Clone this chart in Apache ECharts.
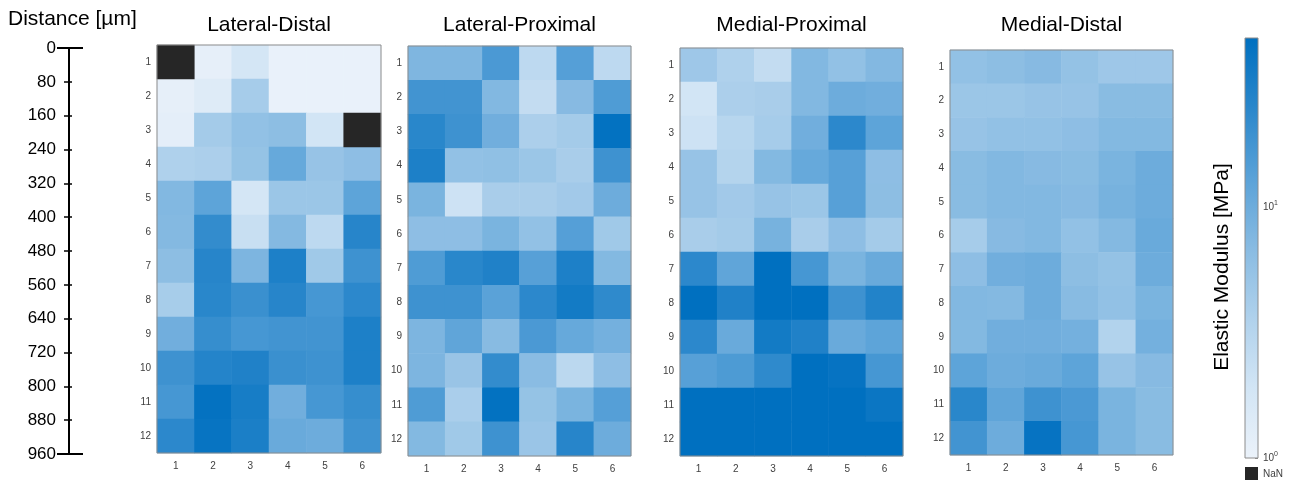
<!DOCTYPE html>
<html>
<head>
<meta charset="utf-8">
<script src="https://cdn.jsdelivr.net/npm/echarts@6/dist/echarts.min.js"></script>
<style>
  html, body { margin: 0; padding: 0; background: #ffffff; }
  #chart { width: 1293px; height: 482px; }
</style>
</head>
<body>
<div id="chart"></div>
<script>
// Indentation grid: 6 columns across, 12 rows down (80 µm per row)
const columns = ['1', '2', '3', '4', '5', '6'];
const rows = ['1', '2', '3', '4', '5', '6', '7', '8', '9', '10', '11', '12'];
const panelTitles = ['Lateral-Distal', 'Lateral-Proximal', 'Medial-Proximal', 'Medial-Distal'];

// Colour scale limits [MPa] (log scale)
const modulusMin = 1;
const modulusMax = 47;
const colorbarLabels = [1, 10];
const colorbarMinorTicks = [2, 3, 4, 5, 6, 7, 8, 9, 20, 30, 40];

// Elastic modulus per cell [MPa]; null = no measurement (NaN)
const lateralDistal = [
  [null, 1.15, 1.8, 1.05, 1.05, 1.05],
  [1.15, 1.4, 4.2, 1.05, 1.05, 1.05],
  [1.2, 4.3, 5.8, 6.3, 1.9, null],
  [3.6, 3.8, 5.5, 11, 5.4, 6.2],
  [7.5, 12.5, 1.8, 5.0, 5.0, 12.5],
  [7.2, 22, 2.3, 7.2, 2.8, 26],
  [6.3, 26, 8.0, 30, 4.6, 19],
  [4.1, 25, 20, 26, 17, 24],
  [9.5, 21, 17, 18, 18, 30],
  [19, 27, 29, 20, 19, 30],
  [17, 44, 33, 9.5, 17, 21],
  [24, 42, 31, 10.5, 10, 19]
];
const lateralProximal = [
  [7.8, 7.8, 16, 2.8, 14, 2.8],
  [18, 18, 7.5, 2.5, 7.0, 15],
  [25, 19, 9.5, 3.8, 4.3, 45],
  [30, 5.8, 6.0, 5.0, 4.0, 19],
  [8.3, 2.1, 4.0, 4.0, 4.5, 10],
  [6.2, 6.2, 8.3, 5.8, 14, 4.6],
  [15, 25, 29, 13.5, 30, 7.3],
  [19, 19, 13, 24, 35, 23],
  [8.0, 12, 6.8, 16, 11, 9.0],
  [8.0, 5.2, 22, 6.6, 2.9, 6.2],
  [15, 3.9, 45, 5.5, 8.3, 14],
  [7.3, 4.6, 19, 5.1, 26, 10]
];
const medialProximal = [
  [4.8, 3.6, 2.5, 7.5, 5.8, 7.4],
  [1.9, 3.8, 4.0, 7.5, 10, 9.5],
  [2.1, 3.1, 4.2, 9.5, 24, 12.5],
  [5.4, 3.3, 7.3, 11, 13.5, 6.2],
  [5.4, 4.5, 5.4, 5.0, 13.5, 6.3],
  [4.0, 4.3, 8.7, 4.0, 6.2, 4.3],
  [24, 12, 47, 17, 8.3, 10.5],
  [47, 29, 47, 47, 19, 28],
  [24, 10.5, 35, 29, 10.5, 12.5],
  [13.5, 15.5, 23, 47, 43, 17],
  [47, 47, 47, 47, 47, 40],
  [47, 47, 47, 47, 47, 47]
];
const medialDistal = [
  [5.8, 6.3, 7.0, 5.6, 4.8, 4.8],
  [5.0, 5.0, 5.4, 5.4, 6.7, 6.7],
  [5.4, 5.8, 5.8, 6.2, 7.3, 7.3],
  [6.7, 7.5, 7.0, 6.7, 8.3, 10],
  [6.7, 7.5, 7.5, 7.0, 8.7, 10],
  [4.2, 7.0, 7.5, 5.8, 7.2, 10.5],
  [6.2, 9.5, 10, 6.3, 5.6, 10],
  [7.5, 7.2, 10, 6.8, 5.8, 8.3],
  [7.3, 9.5, 9.5, 9.0, 3.4, 9.0],
  [12.5, 10, 10.5, 12.5, 5.4, 7.0],
  [25, 12, 19, 16, 8.3, 6.7],
  [18, 10, 43, 17, 8.3, 6.7]
];
const panelValues = [lateralDistal, lateralProximal, medialProximal, medialDistal];

// Blue sequential colormap, low -> high
const colormap = ['#ebf2fa', '#d2e5f5', '#afd1ec', '#88bbe2', '#5aa2d8', '#2a87cb', '#0070c0'];

const logMin = Math.log10(modulusMin);
const logMax = Math.log10(modulusMax);
const textFont = '"Liberation Sans", Arial, sans-serif';

// Panel frames in pixels
const panelBoxes = [
  { left: 157, top: 45, width: 224, height: 408 },
  { left: 408, top: 46, width: 223, height: 410 },
  { left: 680, top: 48, width: 223, height: 408 },
  { left: 950, top: 50, width: 223, height: 405 }
];

const grids = [];
const xAxes = [];
const yAxes = [];
const series = [];
const graphics = [];

panelBoxes.forEach((box, p) => {
  grids.push(Object.assign({ show: true, borderColor: '#8c8c8c', borderWidth: 1, backgroundColor: 'transparent', z: 5 }, box));
  xAxes.push({
    type: 'category', gridIndex: p, data: columns, position: 'bottom',
    axisLine: { show: false }, axisTick: { show: false }, splitLine: { show: false },
    axisLabel: { fontFamily: textFont, fontSize: 10, color: '#404040', margin: 8 }
  });
  yAxes.push({
    type: 'category', gridIndex: p, data: rows, inverse: true, position: 'left',
    axisLine: { show: false }, axisTick: { show: false }, splitLine: { show: false },
    axisLabel: { fontFamily: textFont, fontSize: 10, color: '#404040', margin: 6 }
  });
  graphics.push({
    type: 'text', x: box.left + box.width / 2, y: 25,
    style: { text: panelTitles[p], font: '21px ' + textFont, fill: '#000', align: 'center', verticalAlign: 'middle' }
  });
});

// Depth axis on the far left
grids.push({ left: 69, top: 48, width: 1, height: 406 });
xAxes.push({ type: 'value', gridIndex: 4, min: 0, max: 1, show: false });
const depthAxisBase = {
  type: 'value', gridIndex: 4, min: 0, max: 960, interval: 80, inverse: true, position: 'left',
  splitLine: { show: false }, axisLine: { show: false, onZero: false }, axisLabel: { show: false }
};
yAxes.push(Object.assign({}, depthAxisBase, {
  axisLine: { show: true, onZero: false, lineStyle: { color: '#000', width: 2 } },
  axisTick: { show: true, inside: false, length: 5, lineStyle: { color: '#000', width: 1.5 } },
  axisLabel: { show: true, fontFamily: textFont, fontSize: 17, color: '#000', margin: 13 }
}));
yAxes.push(Object.assign({}, depthAxisBase, {
  axisTick: { show: true, inside: true, length: 3, lineStyle: { color: '#000', width: 1.5 } }
}));
yAxes.push(Object.assign({}, depthAxisBase, {
  axisTick: { show: true, inside: false, length: 12, customValues: [0, 960], lineStyle: { color: '#000', width: 2 } }
}));
yAxes.push(Object.assign({}, depthAxisBase, {
  axisTick: { show: true, inside: true, length: 14, customValues: [0, 960], lineStyle: { color: '#000', width: 2 } }
}));
graphics.push({
  type: 'text', x: 8, y: 19,
  style: { text: 'Distance [µm]', font: '21px ' + textFont, fill: '#000', align: 'left', verticalAlign: 'middle' }
});

// Colorbar
grids.push({ left: 1245, top: 38, width: 13, height: 420, show: true, borderColor: '#8c8c8c', borderWidth: 1, z: 5 });
xAxes.push({ type: 'category', gridIndex: 5, data: [''], show: false });
yAxes.push({
  type: 'value', gridIndex: 5, min: logMin, max: logMax, position: 'right',
  splitLine: { show: false }, axisLine: { show: false },
  axisTick: { show: true, inside: true, length: 3, lineStyle: { color: '#8c8c8c', width: 1 },
    customValues: colorbarLabels.concat(colorbarMinorTicks).map(v => Math.log10(v)) },
  axisLabel: {
    show: true, margin: 5, customValues: colorbarLabels.map(v => Math.log10(v)),
    formatter: v => '{b|10}{s|' + Math.round(v) + '}',
    rich: {
      b: { fontFamily: textFont, fontSize: 10, color: '#404040' },
      s: { fontFamily: textFont, fontSize: 7, color: '#404040', padding: [0, 0, 7, 0] }
    }
  }
});
graphics.push({
  type: 'text', x: 1222, y: 267, rotation: Math.PI / 2,
  style: { text: 'Elastic Modulus [MPa]', font: '21px ' + textFont, fill: '#000', align: 'center', verticalAlign: 'middle' }
});
graphics.push({ type: 'rect', shape: { x: 1245, y: 467, width: 13, height: 13 }, style: { fill: '#262626' } });
graphics.push({
  type: 'text', x: 1263, y: 474,
  style: { text: 'NaN', font: '10px ' + textFont, fill: '#404040', align: 'left', verticalAlign: 'middle' }
});

// Heatmap cells (coloured on log10 of the modulus)
panelValues.forEach((grid, p) => {
  const cells = [];
  grid.forEach((row, r) => row.forEach((v, c) => {
    if (v !== null) cells.push([c, r, Math.log10(Math.min(Math.max(v, modulusMin), modulusMax))]);
  }));
  series.push({ type: 'heatmap', name: panelTitles[p], xAxisIndex: p, yAxisIndex: p, data: cells, silent: true });
});
// NaN cells
panelValues.forEach((grid, p) => {
  const cells = [];
  grid.forEach((row, r) => row.forEach((v, c) => { if (v === null) cells.push([c, r, 0]); }));
  series.push({ type: 'heatmap', xAxisIndex: p, yAxisIndex: p, data: cells, silent: true, itemStyle: { color: '#262626' } });
});
// Colorbar gradient
series.push({
  type: 'bar', xAxisIndex: 5, yAxisIndex: 8, data: [logMax], barWidth: '100%', silent: true,
  itemStyle: {
    color: new echarts.graphic.LinearGradient(0, 0, 0, 1,
      colormap.slice().reverse().map((c, i) => ({ offset: i / (colormap.length - 1), color: c })))
  }
});

const chart = echarts.init(document.getElementById('chart'), null, { renderer: 'canvas' });
chart.setOption({
  animation: false,
  backgroundColor: '#ffffff',
  grid: grids,
  xAxis: xAxes,
  yAxis: yAxes,
  visualMap: {
    show: false, type: 'continuous', min: logMin, max: logMax, dimension: 2,
    seriesIndex: [0, 1, 2, 3], inRange: { color: colormap }
  },
  series: series,
  graphic: graphics
});
</script>
</body>
</html>
